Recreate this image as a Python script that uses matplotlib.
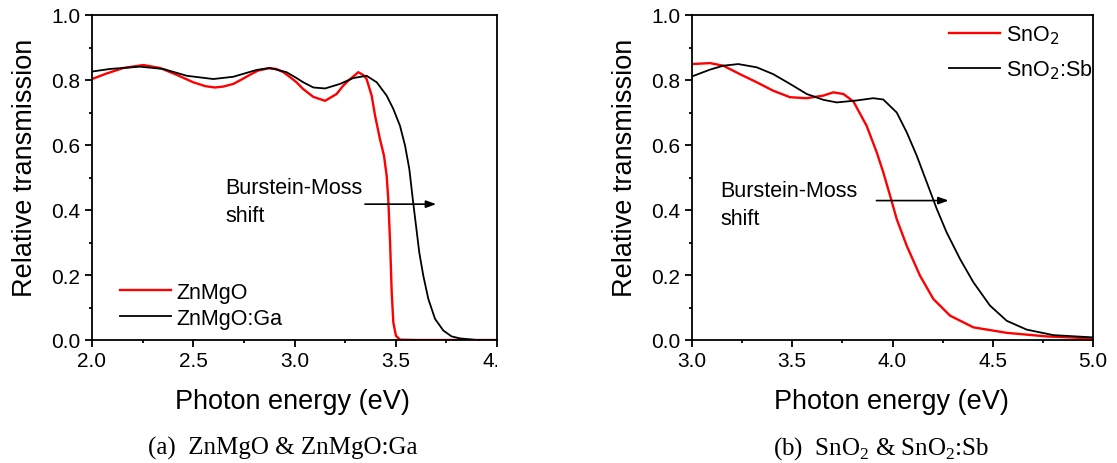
#!/usr/bin/env python3

# Transmission spectra of undoped vs doped films, two panels side by side

import matplotlib
matplotlib.use('Agg')
import matplotlib.pyplot as plt
from matplotlib.transforms import Bbox, TransformedBbox
from matplotlib.ticker import MultipleLocator

# (a) ZnMgO / ZnMgO:Ga
eZnMgO = [2.0, 2.072, 2.155, 2.253, 2.336, 2.418, 2.5, 2.56, 2.607, 2.65, 2.698, 2.74,
          2.78, 2.82, 2.871, 2.91, 2.945, 2.98, 3.01, 3.043, 3.093, 3.151, 3.208, 3.241,
          3.266, 3.315, 3.34, 3.356, 3.381, 3.398, 3.422, 3.442, 3.455, 3.463, 3.472,
          3.48, 3.488, 3.501, 3.521, 3.6, 4.0]
tZnMgO = [0.803, 0.82, 0.837, 0.846, 0.837, 0.816, 0.793, 0.781, 0.777, 0.78, 0.788, 0.802,
          0.816, 0.829, 0.836, 0.834, 0.824, 0.808, 0.793, 0.772, 0.748, 0.736, 0.757, 0.783,
          0.798, 0.824, 0.815, 0.803, 0.752, 0.69, 0.618, 0.567, 0.506, 0.434, 0.301,
          0.147, 0.054, 0.013, 0.001, 0.0, 0.0]
eZnMgOGa = [2.0, 2.089, 2.237, 2.352, 2.468, 2.599, 2.698, 2.813, 2.879, 2.961, 3.01,
            3.043, 3.093, 3.151, 3.225, 3.29, 3.356, 3.406, 3.455, 3.488, 3.521, 3.546,
            3.567, 3.584, 3.6, 3.616, 3.636, 3.661, 3.694, 3.735, 3.776, 3.817, 3.9, 4.0]
tZnMgOGa = [0.826, 0.834, 0.841, 0.834, 0.813, 0.803, 0.81, 0.831, 0.837, 0.824, 0.806,
            0.793, 0.777, 0.774, 0.788, 0.806, 0.813, 0.793, 0.752, 0.711, 0.659, 0.598,
            0.526, 0.434, 0.352, 0.27, 0.198, 0.126, 0.065, 0.029, 0.011, 0.005, 0.0, 0.0]

# (b) SnO2 / SnO2:Sb
eSnO2 = [3.0, 3.09, 3.156, 3.239, 3.323, 3.405, 3.489, 3.572, 3.655, 3.705, 3.755, 3.805,
         3.871, 3.921, 3.954, 3.988, 4.021, 4.071, 4.137, 4.204, 4.287, 4.403, 4.57,
         4.769, 5.0]
tSnO2 = [0.849, 0.852, 0.844, 0.818, 0.793, 0.767, 0.747, 0.744, 0.752, 0.762, 0.757, 0.734,
         0.659, 0.578, 0.516, 0.444, 0.372, 0.29, 0.198, 0.126, 0.075, 0.039, 0.022,
         0.011, 0.005]
eSnO2Sb = [3.0, 3.09, 3.156, 3.231, 3.323, 3.405, 3.489, 3.572, 3.655, 3.722, 3.821, 3.904,
           3.954, 4.021, 4.071, 4.121, 4.171, 4.221, 4.27, 4.337, 4.403, 4.486, 4.57,
           4.669, 4.802, 5.0]
tSnO2Sb = [0.811, 0.832, 0.844, 0.849, 0.839, 0.818, 0.788, 0.757, 0.739, 0.731, 0.737, 0.744,
           0.74, 0.7, 0.639, 0.567, 0.485, 0.403, 0.331, 0.249, 0.178, 0.106, 0.059,
           0.032, 0.015, 0.008]

plt.rcParams['font.family'] = ['Liberation Sans', 'DejaVu Sans']
plt.rcParams['axes.linewidth'] = 1.3

W, H = 1117, 464
fig = plt.figure(figsize=(W / 100, H / 100), dpi=100)

def px(x, y):
    # pixel position (from top-left) -> figure fraction
    return x / W, 1 - y / H

def setupAxes(ax, xlim):
    ax.set_xlim(xlim)
    ax.set_ylim(0, 1.0)
    ax.xaxis.set_major_locator(MultipleLocator(0.5))
    ax.xaxis.set_minor_locator(MultipleLocator(0.25))
    ax.yaxis.set_major_locator(MultipleLocator(0.2))
    ax.yaxis.set_minor_locator(MultipleLocator(0.1))
    ax.xaxis.set_major_formatter('{x:.1f}')
    ax.yaxis.set_major_formatter('{x:.1f}')
    ax.tick_params(which='both', direction='out', top=False, right=False, width=1.3,
                   labelsize=15)
    ax.tick_params(which='major', length=4.7)
    ax.tick_params(which='minor', length=2.5)
    ax.tick_params(axis='x', pad=3.5)
    ax.tick_params(axis='y', pad=3.5)

axA = fig.add_axes([92 / W, 1 - 341 / H, 405 / W, 325 / H])
axB = fig.add_axes([692 / W, 1 - 341 / H, 401 / W, 325 / H])
setupAxes(axA, (2.0, 4.0))
setupAxes(axB, (3.0, 5.0))

axA.plot(eZnMgO, tZnMgO, color='#ff0000', lw=1.7, label='ZnMgO')
axA.plot(eZnMgOGa, tZnMgOGa, color='black', lw=1.3, label='ZnMgO:Ga')
axB.plot(eSnO2, tSnO2, color='#ff0000', lw=1.7, label='SnO$_2$')
axB.plot(eSnO2Sb, tSnO2Sb, color='black', lw=1.3, label='SnO$_2$:Sb')

legendKw = dict(frameon=False, fontsize=15.5, borderpad=0, handlelength=2.37,
                handletextpad=0.28, loc='upper left')
axA.legend(bbox_to_anchor=(0.042, 0.213), labelspacing=0.25, **legendKw)
axB.legend(bbox_to_anchor=(0.613, 1.006), labelspacing=0.53, **legendKw)

# Burstein-Moss annotations
arrowKw = dict(arrowstyle='-|>,head_length=0.5,head_width=0.18', color='black',
               lw=1.2, mutation_scale=12, shrinkA=0, shrinkB=0)
axA.annotate('', xy=(3.70, 0.418), xytext=(3.348, 0.418), arrowprops=arrowKw)
axA.text(2.66, 0.452, 'Burstein-Moss', fontsize=15.5, va='baseline')
axA.text(2.66, 0.367, 'shift', fontsize=15.5, va='baseline')
axB.annotate('', xy=(4.28, 0.429), xytext=(3.92, 0.429), arrowprops=arrowKw)
axB.text(3.14, 0.442, 'Burstein-Moss', fontsize=15.5, va='baseline')
axB.text(3.14, 0.357, 'shift', fontsize=15.5, va='baseline')

# axis labels
for xc in [292.8, 891.7]:
    fig.text(*px(xc, 409), 'Photon energy (eV)', fontsize=19.5, ha='center', va='baseline')
for xb in [31.7, 632.0]:
    fig.text(*px(xb, 167.5), 'Relative transmission', fontsize=19.5, rotation=90,
             rotation_mode='anchor', ha='center', va='baseline')

# sub-captions
fig.text(*px(283, 455), '(a)  ZnMgO & ZnMgO:Ga', family='Liberation Serif',
         fontsize=18, ha='center', va='baseline')
fig.text(*px(881, 455), r'(b)  SnO$_{\mathregular{2}}$ & SnO$_{\mathregular{2}}$:Sb',
         family='Liberation Serif', fontsize=18, ha='center', va='baseline')

# left panel is cropped just after its last x tick label ("4.0" shows as "4.")
clip = TransformedBbox(Bbox([[0, 0], [497 / W, 1]]), fig.transFigure)
locs = axA.xaxis.get_majorticklocs()
ticks = axA.xaxis.get_major_ticks(len(locs))
for loc, tick in zip(locs, ticks):
    if loc > 3.75:
        tick.label1.set_clip_box(clip)
        tick.label1.set_clip_on(True)

plt.savefig('out.png', dpi=100)
